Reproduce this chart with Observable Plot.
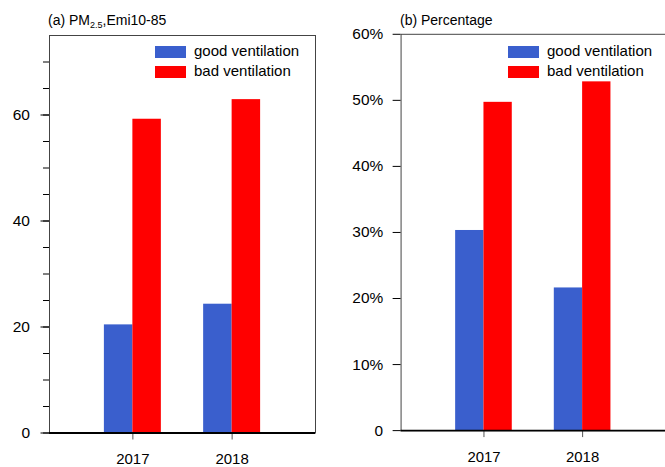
<!DOCTYPE html>
<html>
<head>
<meta charset="utf-8">
<script src="https://cdn.jsdelivr.net/npm/d3@7"></script>
<script src="https://cdn.jsdelivr.net/npm/@observablehq/plot@0.6"></script>
<style>
  html, body { margin: 0; padding: 0; background: #fff; overflow: hidden; }
  #chart { position: relative; width: 665px; height: 467px; overflow: hidden;
           font-family: "Liberation Sans", Arial, Helvetica, sans-serif; color: #000; }
  .panel { position: absolute; top: 0; }
  .title { position: absolute; top: 13px; font-size: 14px; line-height: 14px; white-space: nowrap; }
  .title sub { font-size: 9px; vertical-align: -3px; line-height: 0; }
  .legend { position: absolute; top: 0; left: 0; }
  .sw { position: absolute; width: 31px; height: 12px; }
  .lt { position: absolute; font-size: 15px; line-height: 15px; white-space: nowrap; }
</style>
</head>
<body>
<div id="chart"></div>
<script>
// Years on the x axis
const years = [2017, 2018];
// Series and their fill colours
const seriesNames = ["good ventilation", "bad ventilation"];
const seriesColors = ["#3a5fcd", "#ff0000"];
// (a) PM2.5 concentration, Emi10-85
const pmGood = [20.4, 24.3];
const pmBad = [59.2, 62.9];
// (b) Percentage
const pctGood = [0.303, 0.216];
const pctBad = [0.497, 0.528];
// Axis ticks
const pmMinorTicks = [0, 5, 10, 15, 20, 25, 30, 35, 40, 45, 50, 55, 60, 65, 70];
const pmLabelTicks = [0, 20, 40, 60];
const pctTicks = [0, 0.1, 0.2, 0.3, 0.4, 0.5, 0.6];
const pctTickLabels = ["0", "10%", "20%", "30%", "40%", "50%", "60%"];

const barWidth = 0.287;              // width of one bar, in years
const xDomain = [2016.16, 2018.84];
const font = '"Liberation Sans", Arial, Helvetica, sans-serif';

function rowsFor(good, bad) {
  return years.flatMap((year, i) => [
    {year, series: seriesNames[0], k: 0, value: good[i]},
    {year, series: seriesNames[1], k: 1, value: bad[i]}
  ]);
}

function panel({rows, yDomain, marginLeft, marginRight, marginTop, marginBottom, width, yAxes}) {
  return Plot.plot({
    width, height: 467,
    marginLeft, marginRight, marginTop, marginBottom,
    style: {fontFamily: font, fontSize: "15.5px", background: "transparent", overflow: "visible", color: "#000"},
    x: {domain: xDomain},
    y: {domain: yDomain},
    color: {domain: seriesNames, range: seriesColors},
    marks: [
      Plot.rect(rows, {
        x1: d => d.year + (d.k === 0 ? -barWidth : 0),
        x2: d => d.year + (d.k === 0 ? 0 : barWidth),
        y1: d => 0,
        y2: "value",
        fill: "series"
      }),
      Plot.frame({stroke: "#444", strokeWidth: 1}),
      ...yAxes,
      Plot.axisX(years, {tickSize: 7, tickPadding: 13.5, fontSize: 15, tickFormat: d => String(d), stroke: "#555", label: null}),
      Plot.ruleY([0], {stroke: "#000", strokeWidth: 2})
    ]
  });
}

const chart = document.getElementById("chart");

function addPanel(left, svg, titleHTML, titleX, legendX) {
  const div = document.createElement("div");
  div.className = "panel";
  div.style.left = left + "px";
  div.appendChild(svg);
  chart.appendChild(div);

  const t = document.createElement("div");
  t.className = "title";
  t.style.left = titleX + "px";
  t.innerHTML = titleHTML;
  chart.appendChild(t);

  const lg = document.createElement("div");
  lg.className = "legend";
  seriesNames.forEach((name, i) => {
    const sw = document.createElement("div");
    sw.className = "sw";
    sw.style.left = legendX + "px";
    sw.style.top = (46 + i * 19.5) + "px";
    sw.style.background = seriesColors[i];
    lg.appendChild(sw);
    const tx = document.createElement("div");
    tx.className = "lt";
    tx.style.left = (legendX + 39) + "px";
    tx.style.top = (43 + i * 20) + "px";
    tx.textContent = name;
    lg.appendChild(tx);
  });
  chart.appendChild(lg);
}

const svgA = panel({
  rows: rowsFor(pmGood, pmBad),
  yDomain: [0, 75],
  width: 330, marginLeft: 49, marginRight: 15, marginTop: 35, marginBottom: 34.5,
  yAxes: [
    Plot.axisY(pmMinorTicks, {tickSize: 6, tickFormat: () => "", label: null}),
    Plot.axisY(pmLabelTicks, {tickSize: 8.5, tickPadding: 11, tickFormat: d => String(d), label: null})
  ]
});

const svgB = panel({
  rows: rowsFor(pctGood, pctBad),
  yDomain: [0, 0.6],
  width: 337, marginLeft: 71, marginRight: 0, marginTop: 34, marginBottom: 34.3,
  yAxes: [
    Plot.axisY(pctTicks, {tickSize: 8, tickPadding: 10, tickFormat: d => pctTickLabels[pctTicks.indexOf(d)], label: null})
  ]
});

addPanel(0, svgA, "(a) PM<sub>2.5</sub>,Emi10-85", 48, 155);
addPanel(330, svgB, "(b) Percentage", 400, 508);
</script>
</body>
</html>
